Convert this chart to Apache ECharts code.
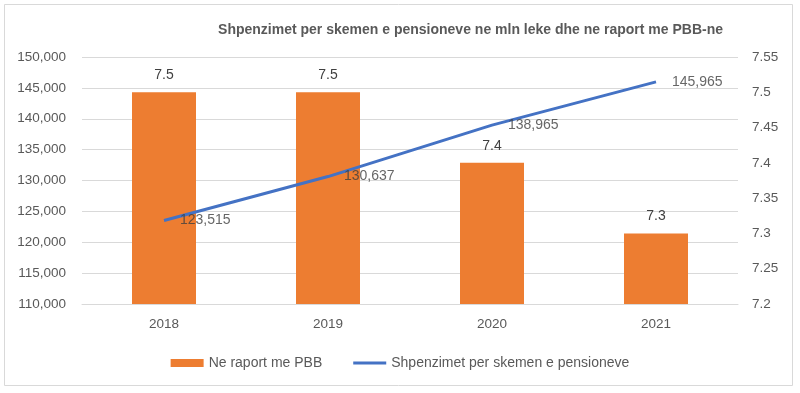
<!DOCTYPE html>
<html>
<head>
<meta charset="utf-8">
<script src="https://cdn.jsdelivr.net/npm/echarts@6/dist/echarts.min.js"></script>
<style>html,body{margin:0;padding:0;background:#fff}#c{width:800px;height:393px}</style>
</head>
<body>
<div id="c"></div>
<script>
var titleText = 'Shpenzimet per skemen e pensioneve ne mln leke dhe ne raport me PBB-ne';
var categories = ['2018', '2019', '2020', '2021'];
var ratioName = 'Ne raport me PBB';
var ratioValues = [7.5, 7.5, 7.4, 7.3];
var spendName = 'Shpenzimet per skemen e pensioneve';
var spendValues = [123515, 130637, 138965, 145965];

var font = 'Liberation Sans, Arial, sans-serif';
var chart = echarts.init(document.getElementById('c'), null, {renderer: 'canvas'});
chart.setOption({
  animation: false,
  textStyle: {fontFamily: font},
  graphic: [{
    type: 'rect', left: 4, top: 4, z: -1,
    shape: {width: 788, height: 381},
    style: {fill: '#fff', stroke: '#d9d9d9', lineWidth: 1}
  }],
  title: {
    text: titleText, right: 72, top: 18,
    textStyle: {fontSize: 14, fontWeight: 'bold', color: '#595959', fontFamily: font}
  },
  legend: {
    top: 351, left: 'center', itemWidth: 33, itemHeight: 8, itemGap: 31,
    textStyle: {fontSize: 14, color: '#595959', fontFamily: font},
    data: [
      {name: ratioName, icon: 'rect'},
      {name: spendName, icon: 'path://M0,0H33V3H0Z', itemStyle: {color: '#4472C4'}}
    ]
  },
  grid: {left: 82, right: 62, top: 57, bottom: 89},
  xAxis: {
    type: 'category', data: categories,
    axisLine: {lineStyle: {color: '#d9d9d9'}},
    axisTick: {show: false},
    axisLabel: {color: '#595959', fontSize: 13.5, margin: 13}
  },
  yAxis: [{
    type: 'value', min: 110000, max: 150000, interval: 5000,
    axisLine: {show: false}, axisTick: {show: false},
    splitLine: {lineStyle: {color: '#d9d9d9'}},
    axisLabel: {color: '#595959', fontSize: 13.5, margin: 16,
      formatter: function (v) { return v.toLocaleString('en-US'); }}
  }, {
    type: 'value', min: 7.2, max: 7.55, interval: 0.05,
    axisLine: {show: false}, axisTick: {show: false},
    splitLine: {show: false},
    axisLabel: {color: '#595959', fontSize: 13.5, margin: 14,
      formatter: function (v) { return String(Math.round(v * 100) / 100); }}
  }],
  series: [{
    name: ratioName, type: 'bar', yAxisIndex: 1, data: ratioValues,
    barWidth: 64, itemStyle: {color: '#ED7D31'},
    label: {show: true, position: 'top', distance: 10, color: '#404040', fontSize: 14,
      formatter: function (p) { return p.value.toFixed(1); }}
  }, {
    name: spendName, type: 'line', yAxisIndex: 0, data: spendValues,
    symbol: 'none', showSymbol: false,
    lineStyle: {color: '#4472C4', width: 3}, itemStyle: {color: '#4472C4'}
  }, {
    name: spendName + ' labels', type: 'scatter', yAxisIndex: 0, data: spendValues,
    symbolSize: 0, silent: true, z: 5,
    label: {show: true, position: 'right', distance: 16, color: '#404040', fontSize: 14,
      formatter: function (p) { return p.value.toLocaleString('en-US'); }}
  }]
});
</script>
</body>
</html>
